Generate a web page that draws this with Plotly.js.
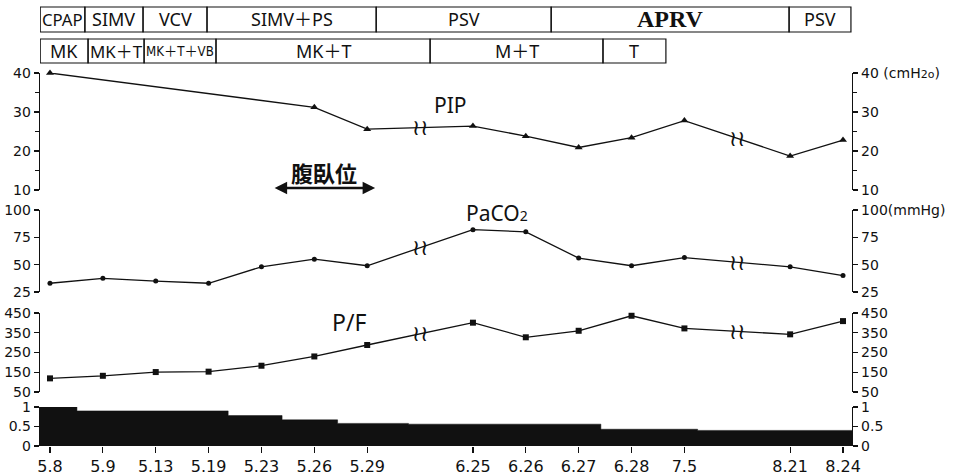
<!DOCTYPE html>
<html><head><meta charset="utf-8">
<script src="https://cdn.plot.ly/plotly-3.0.1.min.js"></script>
<style>html,body{margin:0;padding:0;background:#fff}</style>
</head><body><div id="chart" style="width:955px;height:475px"></div>
<script>
// ---------- data ----------
const dateLabels = ['5.8','5.9','5.13','5.19','5.23','5.26','5.29','6.25','6.26','6.27','6.28','7.5','8.21','8.24'];
const datePos    = [0,1,2,3,4,5,6,8,9,10,11,12,14,15];   // index on a broken time axis
const breakPos   = [7,13];                                 // "≀≀" axis breaks
const pip   = [40,null,null,null,null,31.2,25.6,26.4,23.8,20.9,23.4,27.8,18.7,22.8];   // cmH2O
const paco2 = [33,37.5,35,33,48,55,49,82,80,56,49,56.5,48,40];                       // mmHg
const pf    = [119,132,151,153,183,230,288,401,327,360,436,372,342,409];             // P/F ratio
const fio2ChangeAt = [0.51,3.37,4.39,5.44,6.78,10.42,12.25];
const fio2Levels   = [1.0,0.9,0.78,0.67,0.58,0.56,0.43,0.40];
const ventModes = ['CPAP','SIMV','VCV','SIMV＋PS','PSV','APRV','PSV'];
const ventEdges = [-0.185,0.66,1.76,2.97,6.17,9.48,13.98,15.15];
const drugLabels = ['MK','MK＋T','MK＋T＋VB','MK＋T','M＋T','T'];
const drugEdges  = [-0.185,0.72,1.78,3.14,7.19,10.46,11.65];
const proneStart = 4.22, proneEnd = 6.15;

// ---------- layout constants ----------
const W = 955, H = 475, ML = 40, MR = 103, MT = 0, MB = 29;
const xMin = -0.189, xMax = 15.17;
const plotH = H - MT - MB, plotW = W - ML - MR;
const pxPerUnit = plotW / (xMax - xMin);
const py = px => (plotH - px) / plotH;   // pixel row -> paper y
const INK = '#111';
const TICKFONT = {family:'DejaVu Sans', size:14, color:INK};
const LABELFAM = '"Noto Sans", "Noto Sans CJK JP", sans-serif';
const NARROWFAM = '"Liberation Sans Narrow", "DejaVu Sans Condensed", "Noto Sans CJK JP", sans-serif';

function yAxis(range, vals, texts, extra) {
  return Object.assign({
    range: range, tickvals: vals, ticktext: texts, ticks: 'outside', ticklen: 5, tickwidth: 1.2,
    tickcolor: INK, showline: true, linecolor: INK, linewidth: 1.3, showgrid: false,
    zeroline: false, fixedrange: true, tickfont: TICKFONT, anchor: 'x', autorange: false
  }, extra);
}

function valAt(arr, x) {
  let lo = null, hi = null;
  for (let i = 0; i < datePos.length; i++) {
    if (arr[i] == null) continue;
    if (datePos[i] <= x) lo = i;
    if (datePos[i] >= x && hi === null) hi = i;
  }
  const t = (x - datePos[lo]) / (datePos[hi] - datePos[lo]);
  return arr[lo] + t * (arr[hi] - arr[lo]);
}

// ---------- traces ----------
const lineStyle = {color: INK, width: 1.3};
const traces = [
  {x: datePos, y: pip, yaxis: 'y4', mode: 'lines+markers', connectgaps: true, line: lineStyle,
   marker: {symbol: 'triangle-up', size: 7, color: INK}, cliponaxis: false, hoverinfo: 'skip'},
  {x: datePos, y: paco2, yaxis: 'y3', mode: 'lines+markers', line: lineStyle,
   marker: {symbol: 'circle', size: 5, color: INK}, cliponaxis: false, hoverinfo: 'skip'},
  {x: datePos, y: pf, yaxis: 'y2', mode: 'lines+markers', line: lineStyle,
   marker: {symbol: 'square', size: 6, color: INK}, cliponaxis: false, hoverinfo: 'skip'},
  {x: [xMin].concat(fio2ChangeAt, [xMax]), y: fio2Levels.concat([fio2Levels[fio2Levels.length-1]]),
   yaxis: 'y', mode: 'lines', line: {shape: 'hv', color: INK, width: 0.5}, fill: 'tozeroy',
   fillcolor: INK, hoverinfo: 'skip'}
];
['y5','y6','y7','y8'].forEach(a => traces.push({x: [], y: [], yaxis: a, mode: 'lines', hoverinfo: 'skip'}));

// ---------- shapes & annotations ----------
const shapes = [], annotations = [];
const ctx = document.createElement('canvas').getContext('2d');
function fitSize(label, widthPx, base, family) {
  ctx.font = base + 'px ' + family;
  const w = ctx.measureText(label).width;
  return Math.min(base, base * (widthPx - 4) / w);
}
function boxRow(labels, edges, top, bottom) {
  for (let i = 0; i < labels.length; i++) {
    shapes.push({type: 'rect', xref: 'x', yref: 'paper', x0: edges[i], x1: edges[i+1],
      y0: py(bottom), y1: py(top), line: {color: INK, width: 1.2}});
    const wpx = (edges[i+1] - edges[i]) * pxPerUnit;
    const emph = labels[i] === 'APRV';
    let fam = emph ? '"Liberation Serif", serif' : LABELFAM;
    let size = emph ? 24 : fitSize(labels[i], wpx, 18, fam);
    if (!emph && size < 16) {           // tight box: use a condensed face, as in the source
      fam = NARROWFAM;
      size = fitSize(labels[i], wpx, 18, fam);
    }
    annotations.push({xref: 'x', yref: 'paper', x: (edges[i] + edges[i+1]) / 2, y: py((top + bottom) / 2),
      text: emph ? '<b>' + labels[i] + '</b>' : labels[i], showarrow: false,
      xanchor: 'center', yanchor: 'middle', font: {family: fam, size: size, color: INK}});
  }
}
boxRow(ventModes, ventEdges, 7, 32);
boxRow(drugLabels, drugEdges, 39, 63);

// break marks on each line
[[pip, 'y4'], [paco2, 'y3'], [pf, 'y2']].forEach(([arr, ax]) => {
  breakPos.forEach(b => annotations.push({xref: 'x', yref: ax, x: b, y: valAt(arr, b), text: '≀≀',
    showarrow: false, xanchor: 'center', yanchor: 'middle',
    font: {family: 'DejaVu Sans', size: 22, color: INK}}));
});

// panel labels
annotations.push(
  {xref: 'x', yref: 'y4', x: 7.57, y: 31.8, text: 'PIP', showarrow: false, font: {family: LABELFAM, size: 21, color: INK}},
  {xref: 'x', yref: 'y3', x: 8.45, y: 97.3, text: 'PaCO<span style="font-size:14px">2</span>', showarrow: false, font: {family: LABELFAM, size: 21, color: INK}},
  {xref: 'x', yref: 'y2', x: 5.66, y: 404, text: 'P/F', showarrow: false, font: {family: LABELFAM, size: 23, color: INK}},
  {xref: 'x', yref: 'y', x: 5.86, y: 1.06, text: 'F<span style="font-size:14px">IO2</span>', showarrow: false, yanchor: 'bottom', font: {family: LABELFAM, size: 21, color: INK}},
  {xref: 'x', yref: 'y4', x: (proneStart + proneEnd) / 2, y: 14.6, text: '<b>腹臥位</b>', showarrow: false, font: {family: '"Noto Sans CJK JP"', size: 22, color: INK}},
  {xref: 'x', yref: 'y4', axref: 'x', ayref: 'y4', x: proneEnd, y: 10.5, ax: proneStart, ay: 10.5, text: '',
   showarrow: true, arrowhead: 2, startarrowhead: 2, arrowside: 'end+start', arrowwidth: 2.5,
   arrowsize: 1, startarrowsize: 1, arrowcolor: INK}
);

// ---------- layout ----------
const pipTicks = [10,20,30,40], pcTicks = [25,50,75,100], pfTicks = [50,150,250,350,450], fiTicks = [0,0.5,1];
const pipMinor = {dtick: 5, ticks: 'outside', ticklen: 4, tickwidth: 1.2, tickcolor: INK, showgrid: false};
const layout = {
  width: W, height: H, margin: {l: ML, r: MR, t: MT, b: MB}, paper_bgcolor: '#fff', plot_bgcolor: '#fff',
  showlegend: false, font: {family: 'DejaVu Sans', color: INK},
  xaxis: {range: [xMin, xMax], tickvals: datePos, ticktext: dateLabels, ticks: 'outside', ticklen: 6,
    tickwidth: 1.2, tickcolor: INK, showline: false, showgrid: false, zeroline: false, anchor: 'y',
    fixedrange: true, tickfont: {family: 'DejaVu Sans', size: 16, color: INK}},
  yaxis:  yAxis([0,1], fiTicks, ['0','0.5','1'], {domain: [0, py(407)]}),
  yaxis2: yAxis([50,450], pfTicks, pfTicks.map(String), {domain: [py(392), py(313)]}),
  yaxis3: yAxis([25,100], pcTicks, pcTicks.map(String), {domain: [py(292), py(210)]}),
  yaxis4: yAxis([10,40], pipTicks, pipTicks.map(String), {domain: [py(190), py(73)], minor: pipMinor}),
  yaxis5: yAxis([0,1], fiTicks, ['0','0.5','1'], {side: 'right', overlaying: 'y'}),
  yaxis6: yAxis([50,450], pfTicks, pfTicks.map(String), {side: 'right', overlaying: 'y2'}),
  yaxis7: yAxis([25,100], pcTicks, ['25','50','75','100(mmHg)'], {side: 'right', overlaying: 'y3'}),
  yaxis8: yAxis([10,40], pipTicks, ['10','20','30','40 (cmH<span style="font-size:11px">2o</span>)'], {side: 'right', overlaying: 'y4', minor: pipMinor}),
  shapes: shapes, annotations: annotations
};
Plotly.newPlot('chart', traces, layout, {displayModeBar: false, staticPlot: true});
</script></body></html>
